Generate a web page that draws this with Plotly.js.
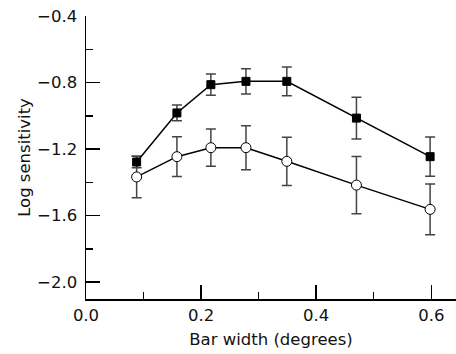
<!DOCTYPE html>
<html>
<head>
<meta charset="utf-8">
<script src="https://cdn.plot.ly/plotly-3.0.1.min.js"></script>
<style>html,body{margin:0;padding:0;background:#fff}#chart{width:456px;height:354px}</style>
</head>
<body>
<div id="chart"></div>
<script>
const barWidth = [0.088, 0.158, 0.217, 0.278, 0.349, 0.470, 0.598];
const filledSens = [-1.278, -0.983, -0.813, -0.793, -0.793, -1.014, -1.246];
const filledErr = [0.035, 0.047, 0.064, 0.076, 0.086, 0.126, 0.118];
const openSens = [-1.368, -1.246, -1.192, -1.192, -1.274, -1.417, -1.563];
const openErr = [0.125, 0.12, 0.112, 0.132, 0.145, 0.172, 0.152];
const xTickVals = [0, 0.2, 0.4, 0.6];
const xTickText = ['0.0', '0.2', '0.4', '0.6'];
const yTickVals = [-2.0, -1.6, -1.2, -0.8, -0.4];
const yTickText = ['\u22122.0', '\u22121.6', '\u22121.2', '\u22120.8', '\u22120.4'];

const font = {family: 'DejaVu Sans, sans-serif', size: 16.5, color: '#111'};

const traces = [
  {
    x: barWidth, y: openSens, type: 'scatter', mode: 'lines+markers',
    line: {color: '#000', width: 1.5},
    marker: {symbol: 'circle', size: 10, color: '#fff', line: {color: '#000', width: 1}},
    error_y: {type: 'data', array: openErr, visible: true, color: '#444', thickness: 1.5, width: 5},
    cliponaxis: false, hoverinfo: 'none'
  },
  {
    x: barWidth, y: filledSens, type: 'scatter', mode: 'lines+markers',
    line: {color: '#000', width: 1.5},
    marker: {symbol: 'square', size: 8, color: '#000', line: {color: '#000', width: 1}},
    error_y: {type: 'data', array: filledErr, visible: true, color: '#444', thickness: 1.5, width: 5},
    cliponaxis: false, hoverinfo: 'none'
  }
];

const layout = {
  width: 456, height: 354,
  margin: {l: 86, r: 0, t: 16, b: 55},
  paper_bgcolor: '#fff', plot_bgcolor: '#fff',
  showlegend: false,
  font: font,
  xaxis: {
    range: [0, 0.643], showgrid: false, zeroline: false,
    showline: true, linecolor: '#000', linewidth: 1.5,
    ticks: 'inside', ticklen: 14, tickwidth: 1.5, tickcolor: '#000',
    tickvals: xTickVals, ticktext: xTickText,
    minor: {dtick: 0.1, tick0: 0, ticks: 'inside', ticklen: 7, tickwidth: 1.5, tickcolor: '#000', showgrid: false},
    tickfont: font, ticklabelstandoff: 1,
    title: {text: 'Bar width (degrees)', font: font, standoff: 9}
  },
  yaxis: {
    range: [-2.102, -0.4], showgrid: false, zeroline: false,
    showline: true, linecolor: '#000', linewidth: 1.5,
    ticks: 'inside', ticklen: 14, tickwidth: 1.5, tickcolor: '#000',
    tickvals: yTickVals, ticktext: yTickText,
    minor: {dtick: 0.2, tick0: -2.0, ticks: 'inside', ticklen: 7, tickwidth: 1.5, tickcolor: '#000', showgrid: false},
    tickfont: font, ticklabelstandoff: 4,
    title: {text: 'Log sensitivity', font: font, standoff: 2}
  }
};

Plotly.newPlot('chart', traces, layout, {displayModeBar: false, staticPlot: true});
</script>
</body>
</html>
